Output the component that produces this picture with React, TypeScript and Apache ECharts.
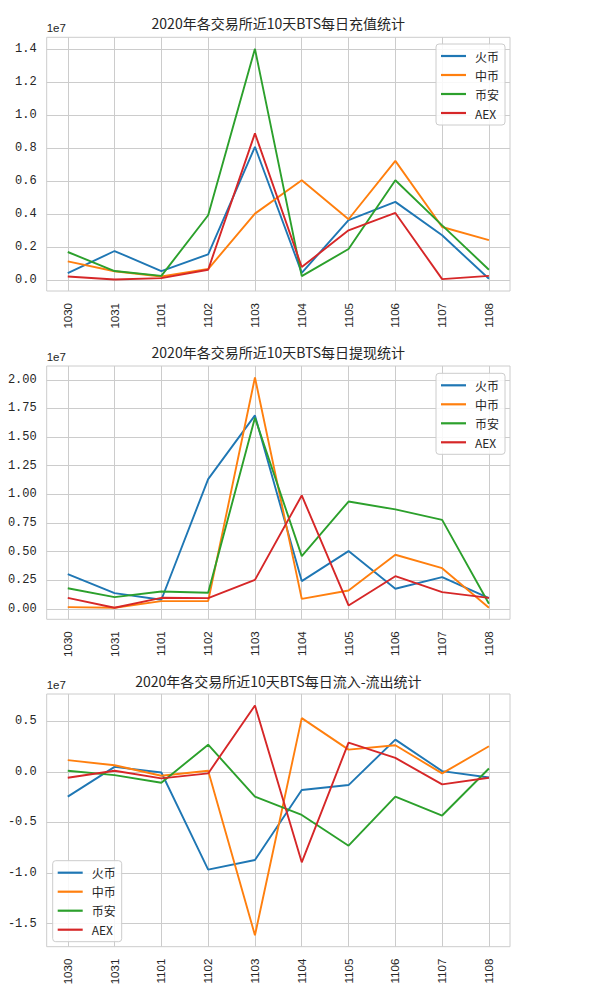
import React, { useEffect, useRef } from 'react';
import * as echarts from 'echarts';

const CATEGORIES = ['1030', '1031', '1101', '1102', '1103', '1104', '1105', '1106', '1107', '1108'];
const EXCHANGES = ['火币', '中币', '币安', 'AEX'];
const COLORS = ['#1f77b4', '#ff7f0e', '#2ca02c', '#d62728'];

// 充值 (deposit)
const DEPOSIT_HUOBI = [440000, 1780000, 570000, 1580000, 8080000, 460000, 3640000, 4750000, 2730000, 100000];
const DEPOSIT_ZB = [1150000, 560000, 240000, 690000, 4040000, 6060000, 3700000, 7230000, 3230000, 2440000];
const DEPOSIT_BINANCE = [1720000, 570000, 280000, 3940000, 14000000, 260000, 1900000, 6060000, 3330000, 650000];
const DEPOSIT_AEX = [240000, 60000, 140000, 650000, 8890000, 810000, 3030000, 4080000, 80000, 280000];

// 提现 (withdraw)
const WITHDRAW_HUOBI = [3030000, 1370000, 790000, 11330000, 16890000, 2420000, 5040000, 1750000, 2770000, 930000];
const WITHDRAW_ZB = [150000, 90000, 670000, 670000, 20200000, 870000, 1600000, 4720000, 3550000, 90000];
const WITHDRAW_BINANCE = [1800000, 1020000, 1510000, 1400000, 16680000, 4600000, 9370000, 8680000, 7770000, 440000];
const WITHDRAW_AEX = [960000, 90000, 960000, 930000, 2530000, 9900000, 290000, 2850000, 1460000, 960000];

// 流入-流出 (net)
const NET_HUOBI = [-2450000, 490000, -70000, -9660000, -8710000, -1800000, -1310000, 3180000, 70000, -560000];
const NET_ZB = [1150000, 650000, -390000, 100000, -16140000, 5300000, 2190000, 2620000, -160000, 2520000];
const NET_BINANCE = [100000, -330000, -1080000, 2680000, -2450000, -4260000, -7300000, -2450000, -4320000, 330000];
const NET_AEX = [-590000, 100000, -650000, -160000, 6550000, -8940000, 2880000, 1370000, -1240000, -590000];

const TITLES = [
  '2020年各交易所近10天BTS每日充值统计',
  '2020年各交易所近10天BTS每日提现统计',
  '2020年各交易所近10天BTS每日流入-流出统计',
];

const Y_TICKS_DEPOSIT = [0, 2000000, 4000000, 6000000, 8000000, 10000000, 12000000, 14000000];
const Y_TICKS_WITHDRAW = [0, 2500000, 5000000, 7500000, 10000000, 12500000, 15000000, 17500000, 20000000];
const Y_TICKS_NET = [-15000000, -10000000, -5000000, 0, 5000000];
const Y_DECIMALS = [1, 2, 1];
const OFFSET_LABEL = '1e7';

const PANELS = [
  { series: [DEPOSIT_HUOBI, DEPOSIT_ZB, DEPOSIT_BINANCE, DEPOSIT_AEX], ticks: Y_TICKS_DEPOSIT },
  { series: [WITHDRAW_HUOBI, WITHDRAW_ZB, WITHDRAW_BINANCE, WITHDRAW_AEX], ticks: Y_TICKS_WITHDRAW },
  { series: [NET_HUOBI, NET_ZB, NET_BINANCE, NET_AEX], ticks: Y_TICKS_NET },
];

const LAYOUT = [
  { top: 37.3, height: 253.7, legendLeft: 436, legendTop: 44 },
  { top: 366, height: 253.3, legendLeft: 436, legendTop: 373.3 },
  { top: 694, height: 252.7, legendLeft: 52.7, legendTop: 860.7 },
];
const GRID_LEFT = 46.7;
const GRID_WIDTH = 463.3;

const CJK = '"Noto Sans CJK SC", "Noto Sans", sans-serif';
const TEXT = '#262626';
const GRIDC = '#cccccc';

export default function App() {
  const ref = useRef<HTMLDivElement>(null);
  useEffect(() => {
    document.body.style.margin = '0';
    const chart = echarts.init(ref.current!, null, { renderer: 'svg' });
    const xIdx = CATEGORIES.map((_, i) => i);

    const grids: any[] = [];
    const xAxes: any[] = [];
    const yAxes: any[] = [];
    const series: any[] = [];
    const legends: any[] = [];
    const graphics: any[] = [];

    PANELS.forEach((p, pi) => {
      const L = LAYOUT[pi];
      const all = p.series.flat();
      const dmin = Math.min(...all);
      const dmax = Math.max(...all);
      const pad = (dmax - dmin) * 0.05;
      grids.push({
        left: GRID_LEFT, top: L.top, width: GRID_WIDTH, height: L.height,
        show: true, borderColor: GRIDC, borderWidth: 1, backgroundColor: '#fff',
        containLabel: false,
      });
      xAxes.push({
        gridIndex: pi, type: 'value', min: -0.45, max: 9.45,
        axisLine: { show: false },
        axisTick: { show: false, customValues: xIdx },
        axisLabel: {
          customValues: xIdx,
          formatter: (v: number) => CATEGORIES[Math.round(v)] ?? '',
          rotate: 90, margin: 12, fontSize: 11.5, color: TEXT,
          fontFamily: '"Liberation Sans", Arial, sans-serif',
        },
        splitLine: { show: true, lineStyle: { color: GRIDC, width: 1 } },
      });
      yAxes.push({
        gridIndex: pi, type: 'value', min: dmin - pad, max: dmax + pad,
        axisLine: { show: false },
        axisTick: { show: false, customValues: p.ticks },
        axisLabel: {
          customValues: p.ticks,
          formatter: (v: number) => (v / 1e7).toFixed(Y_DECIMALS[pi]),
          margin: 10, fontSize: 12, color: TEXT,
          fontFamily: '"Liberation Mono", "DejaVu Sans Mono", monospace',
        },
        splitLine: { show: true, lineStyle: { color: GRIDC, width: 1 } },
      });
      p.series.forEach((vals, si) => {
        series.push({
          name: EXCHANGES[si], type: 'line', xAxisIndex: pi, yAxisIndex: pi,
          data: vals.map((v, j) => [j, v]),
          showSymbol: false, symbol: 'none',
          lineStyle: { width: 1.9, color: COLORS[si] },
          itemStyle: { color: COLORS[si] },
          color: COLORS[si],
          z: 3 + si,
        });
      });
      legends.push({
        data: EXCHANGES, orient: 'vertical', left: L.legendLeft, top: L.legendTop,
        icon: 'rect', itemWidth: 25, itemHeight: 2.2, itemGap: 5,
        padding: [5, 6, 5, 5],
        backgroundColor: 'rgba(255,255,255,0.85)', borderColor: GRIDC, borderWidth: 1, borderRadius: 3,
        textStyle: { fontSize: 12, lineHeight: 14, color: TEXT, fontFamily: CJK, padding: [0, 0, 0, 4] },
        selectedMode: false,
      });
      const titleY = [23, 351.7, 680.7][pi];
      graphics.push({
        type: 'text', x: GRID_LEFT + GRID_WIDTH / 2, y: titleY,
        style: { text: TITLES[pi], fontSize: 14, fontFamily: CJK, fill: TEXT, align: 'center', verticalAlign: 'middle' },
      });
      graphics.push({
        type: 'text', x: GRID_LEFT, y: [28.3, 357.3, 685][pi],
        style: { text: OFFSET_LABEL, fontSize: 11.5, fontFamily: '"Liberation Sans", Arial, sans-serif', fill: TEXT, align: 'left', verticalAlign: 'middle' },
      });
    });

    chart.setOption({
      animation: false,
      backgroundColor: '#fff',
      grid: grids, xAxis: xAxes, yAxis: yAxes, series, legend: legends, graphic: graphics,
    });
    return () => chart.dispose();
  }, []);
  return <div ref={ref} style={{ width: 600, height: 1000 }} />;
}
